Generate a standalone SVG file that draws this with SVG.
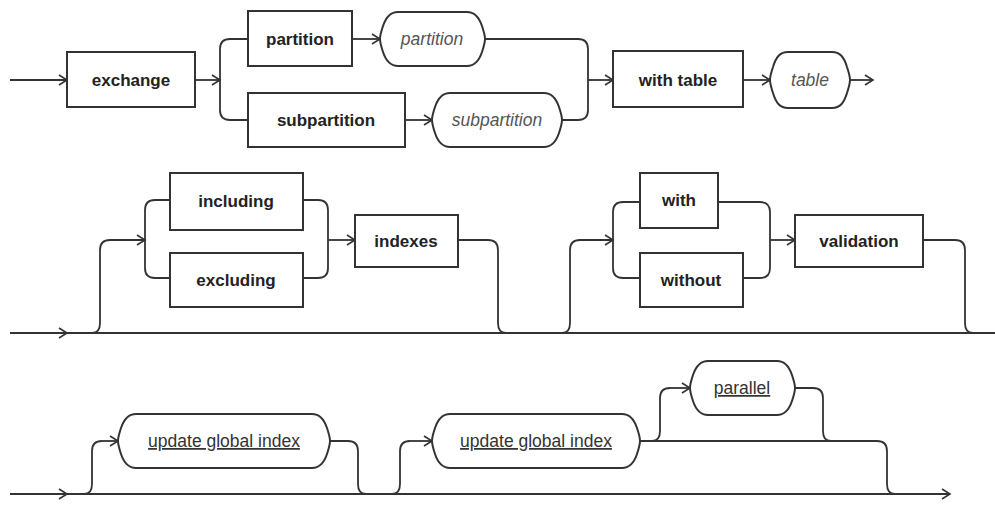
<svg xmlns="http://www.w3.org/2000/svg" width="995" height="506" viewBox="0 0 995 506">
  <style>
    .box { fill: #fff; stroke: #333; stroke-width: 2; }
    .term { fill: #fff; stroke: #333; stroke-width: 2; }
    .kw { font-family: "Liberation Sans", Arial, sans-serif; font-weight: bold; font-size: 17px; fill: #222; text-anchor: middle; }
    .var { font-family: "Liberation Sans", Arial, sans-serif; font-style: italic; font-size: 17.5px; fill: #555; text-anchor: middle; }
    .ref { font-family: "Liberation Sans", Arial, sans-serif; font-size: 17.5px; fill: #333; text-anchor: middle; text-decoration: underline; }
    .line { fill: none; stroke: #333; stroke-width: 1.8; }
    .arr { fill: none; stroke: #333; stroke-width: 1.8; marker-end: url(#arrow); }
  </style>
  <defs>
    <marker id="arrow" viewBox="-10 -6 12 12" refX="0" refY="0" markerWidth="12" markerHeight="12" orient="auto" markerUnits="userSpaceOnUse">
      <path d="M-8,-5 L0,0 L-8,5" fill="none" stroke="#333" stroke-width="1.6"/>
    </marker>
  </defs>
  <rect width="995" height="506" fill="#fff"/>

  <!-- connectors -->
  <g id="connectors">
    <!-- row 1 -->
    <path class="arr" d="M10,80 H67"/>
    <path class="arr" d="M195,80 H220"/>
    <path class="line" d="M220,80 V49 Q220,39 230,39 H248"/>
    <path class="line" d="M220,80 V110 Q220,120 230,120 H248"/>
    <path class="arr" d="M352,39 H380"/>
    <path class="arr" d="M405,120 H432"/>
    <path class="line" d="M485,39 H578 Q588,39 588,49 V80"/>
    <path class="line" d="M562,120 H578 Q588,120 588,110 V80"/>
    <path class="arr" d="M588,80 H613"/>
    <path class="arr" d="M743,80 H770"/>
    <path class="arr" d="M850,80 H873"/>

    <!-- row 2 -->
    <path class="arr" d="M10,333 H67"/>
    <path class="line" d="M67,333 H995"/>
    <path class="line" d="M92,333 Q100,333 100,323 V250 Q100,240 110,240"/>
    <path class="arr" d="M110,240 H145"/>
    <path class="line" d="M145,240 V210 Q145,200 155,200 H170"/>
    <path class="line" d="M145,240 V268 Q145,278 155,278 H170"/>
    <path class="line" d="M303,200 H318 Q328,200 328,210 V240"/>
    <path class="line" d="M303,278 H318 Q328,278 328,268 V240"/>
    <path class="arr" d="M328,240 H355"/>
    <path class="line" d="M458,240 H488 Q498,240 498,250 V323 Q498,333 506,333"/>
    <path class="line" d="M562,333 Q570,333 570,323 V250 Q570,240 580,240"/>
    <path class="arr" d="M580,240 H613"/>
    <path class="line" d="M613,240 V212 Q613,202 623,202 H640"/>
    <path class="line" d="M613,240 V268 Q613,278 623,278 H640"/>
    <path class="line" d="M718,202 H760 Q770,202 770,212 V240"/>
    <path class="line" d="M743,278 H760 Q770,278 770,268 V240"/>
    <path class="arr" d="M770,240 H795"/>
    <path class="line" d="M923,240 H955 Q965,240 965,250 V323 Q965,333 973,333"/>

    <!-- row 3 -->
    <path class="arr" d="M10,494 H67"/>
    <path class="arr" d="M67,494 H950"/>
    <path class="line" d="M84,494 Q92,494 92,484 V451 Q92,441 102,441"/>
    <path class="arr" d="M102,441 H118"/>
    <path class="line" d="M330,441 H348 Q358,441 358,451 V484 Q358,494 366,494"/>
    <path class="line" d="M392,494 Q400,494 400,484 V451 Q400,441 410,441"/>
    <path class="arr" d="M410,441 H432"/>
    <path class="line" d="M640,441 H877 Q887,441 887,451 V484 Q887,494 895,494"/>
    <path class="line" d="M652,441 Q660,441 660,431 V398 Q660,388 670,388"/>
    <path class="arr" d="M670,388 H690"/>
    <path class="line" d="M795,388 H813 Q823,388 823,398 V431 Q823,441 831,441"/>
  </g>

  <!-- row 1 nodes -->
  <g id="exchange"><rect class="box" x="67" y="52" width="128" height="55"/><text class="kw" x="131" y="86">exchange</text></g>
  <g id="partition-kw"><rect class="box" x="248" y="11" width="104" height="55"/><text class="kw" x="300" y="45">partition</text></g>
  <g id="partition-name"><path class="term" d="M398,12 H467 C475,12 479,17 482,26 C484,32 485,36 485,39 C485,42 484,46 482,52 C479,61 475,66 467,66 H398 C390,66 386,61 383,52 C381,46 380,42 380,39 C380,36 381,32 383,26 C386,17 390,12 398,12 Z"/><text class="var" x="432" y="45">partition</text></g>
  <g id="subpartition-kw"><rect class="box" x="248" y="93" width="157" height="54"/><text class="kw" x="326" y="126">subpartition</text></g>
  <g id="subpartition-name"><path class="term" d="M450,93 H544 C552,93 556,98 559,107 C561,113 562,117 562,120 C562,123 561,127 559,133 C556,142 552,147 544,147 H450 C442,147 438,142 435,133 C433,127 432,123 432,120 C432,117 433,113 435,107 C438,98 442,93 450,93 Z"/><text class="var" x="497" y="126">subpartition</text></g>
  <g id="with-table"><rect class="box" x="613" y="51" width="130" height="56"/><text class="kw" x="678" y="86">with table</text></g>
  <g id="table-name"><path class="term" d="M788,52 H832 C840,52 844,57 847,67 C849,73 850,77 850,80 C850,83 849,87 847,93 C844,103 840,108 832,108 H788 C780,108 776,103 773,93 C771,87 770,83 770,80 C770,77 771,73 773,67 C776,57 780,52 788,52 Z"/><text class="var" x="810" y="86">table</text></g>

  <!-- row 2 nodes -->
  <g id="including"><rect class="box" x="170" y="173" width="133" height="57"/><text class="kw" x="236" y="207">including</text></g>
  <g id="excluding"><rect class="box" x="170" y="253" width="133" height="54"/><text class="kw" x="236" y="286">excluding</text></g>
  <g id="indexes"><rect class="box" x="355" y="215" width="103" height="52"/><text class="kw" x="406" y="247">indexes</text></g>
  <g id="with"><rect class="box" x="640" y="173" width="78" height="55"/><text class="kw" x="679" y="206">with</text></g>
  <g id="without"><rect class="box" x="640" y="253" width="103" height="54"/><text class="kw" x="691" y="286">without</text></g>
  <g id="validation"><rect class="box" x="795" y="215" width="128" height="52"/><text class="kw" x="859" y="247">validation</text></g>

  <!-- row 3 nodes -->
  <g id="update-global-index-1"><path class="term" d="M136,414 H312 C320,414 324,419 327,428 C329,434 330,438 330,441 C330,444 329,448 327,454 C324,463 320,468 312,468 H136 C128,468 124,463 121,454 C119,448 118,444 118,441 C118,438 119,434 121,428 C124,419 128,414 136,414 Z"/><text class="ref" x="224" y="447">update global index</text></g>
  <g id="update-global-index-2"><path class="term" d="M450,414 H622 C630,414 634,419 637,428 C639,434 640,438 640,441 C640,444 639,448 637,454 C634,463 630,468 622,468 H450 C442,468 438,463 435,454 C433,448 432,444 432,441 C432,438 433,434 435,428 C438,419 442,414 450,414 Z"/><text class="ref" x="536" y="447">update global index</text></g>
  <g id="parallel"><path class="term" d="M708,361 H777 C785,361 789,366 792,375 C794,381 795,385 795,388 C795,391 794,395 792,401 C789,410 785,415 777,415 H708 C700,415 696,410 693,401 C691,395 690,391 690,388 C690,385 691,381 693,375 C696,366 700,361 708,361 Z"/><text class="ref" x="742" y="394">parallel</text></g>
</svg>
